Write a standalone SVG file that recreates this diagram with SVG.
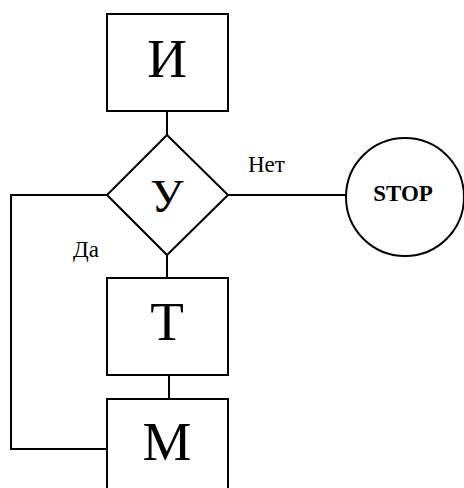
<svg xmlns="http://www.w3.org/2000/svg" width="464" height="488" viewBox="0 0 464 488">
<style>
.s{fill:#fff;stroke:#000;stroke-width:2}
.c{fill:none;stroke:#000;stroke-width:2}
text{font-family:"Liberation Serif","Times New Roman",serif;fill:#000}
.big{font-size:55px;text-anchor:middle}
.lbl{font-size:23px}
</style>
<rect width="464" height="488" fill="#fff"/>
<g id="connectors">
<line class="c" x1="167" y1="111" x2="167" y2="135"/>
<line class="c" x1="228" y1="195" x2="346" y2="195"/>
<polyline class="c" points="107,195 11,195 11,449 107,449"/>
<line class="c" x1="167" y1="255" x2="167" y2="278"/>
<line class="c" x1="169" y1="375" x2="169" y2="399"/>
<text class="lbl" x="248" y="172">Нет</text>
<text class="lbl" x="73" y="257">Да</text>
</g>
<g id="node-I">
<rect class="s" x="107" y="14" width="121" height="97"/>
<text class="big" x="167" y="77">И</text>
</g>
<g id="node-U">
<polygon class="s" points="167,135 228,195 167,255 107,195"/>
<text class="big" x="167" y="212" style="font-size:47px">У</text>
</g>
<g id="node-stop">
<circle class="s" cx="405" cy="197" r="59"/>
<text x="403" y="201" style="font-size:23px;font-weight:bold;text-anchor:middle">STOP</text>
</g>
<g id="node-T">
<rect class="s" x="107" y="278" width="121" height="97"/>
<text class="big" x="167" y="340">Т</text>
</g>
<g id="node-M">
<rect class="s" x="107" y="399" width="121" height="97"/>
<text class="big" x="167" y="460">М</text>
</g>
</svg>
